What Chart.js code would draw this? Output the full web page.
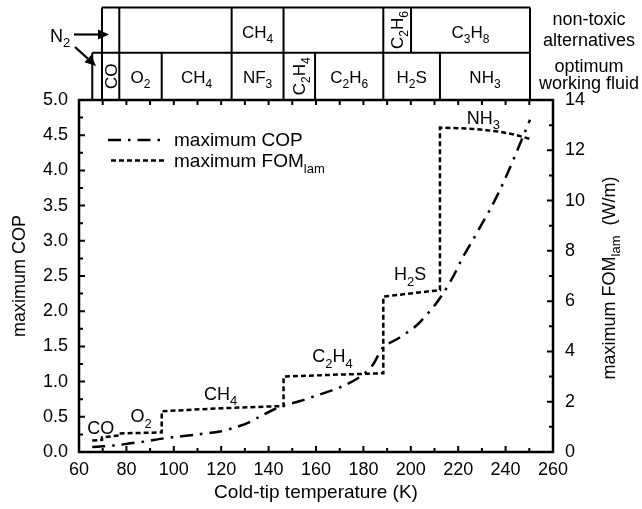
<!DOCTYPE html>
<html><head><meta charset="utf-8">
<script src="https://cdn.jsdelivr.net/npm/chart.js@4"></script>
<style>html,body{margin:0;padding:0;background:#fff}</style>
</head><body>
<canvas id="c" width="642" height="509" style="width:642px;height:509px;display:block"></canvas>
<script>
// ---------------- data ----------------
const copTemps  = [65.6, 70, 77, 81, 88, 94.9, 100, 110, 119.5, 125, 131, 137.8, 142, 146.3, 153, 160, 167, 173, 180, 184, 188.4, 195, 202.5, 210, 214, 218, 222, 226, 230, 234, 238, 242, 246, 250.3];
const copValues = [0.07, 0.08, 0.10, 0.12, 0.15, 0.19, 0.21, 0.25, 0.29, 0.34, 0.41, 0.53, 0.60, 0.66, 0.72, 0.80, 0.88, 0.96, 1.10, 1.24, 1.49, 1.62, 1.80, 2.08, 2.27, 2.50, 2.77, 3.00, 3.24, 3.48, 3.75, 4.05, 4.37, 4.72];

const fomTemps  = [65.6, 69.7, 69.7, 77, 77, 94.9, 94.9, 120, 146.3, 146.3, 170, 188.4, 188.4, 212.3, 212.3, 220, 226, 232, 238, 244, 250.3];
const fomValues = [0.46, 0.48, 0.58, 0.66, 0.74, 0.78, 1.62, 1.74, 1.83, 3.00, 3.08, 3.13, 6.18, 6.44, 12.90, 12.88, 12.85, 12.80, 12.73, 12.62, 12.45];

const xTicks   = [60, 80, 100, 120, 140, 160, 180, 200, 220, 240, 260];
const copTicks = [0, 0.5, 1, 1.5, 2, 2.5, 3, 3.5, 4, 4.5, 5];
const fomTicks = [0, 2, 4, 6, 8, 10, 12, 14];

// fluid table (cell edges in K)
const topRowEdges  = [69.7, 77, 124.4, 146.3, 188.4, 200.1, 250.3];
const topRowLabels = ['', '', 'CH_4', '', 'C_2H_6', 'C_3H_8'];
const bottomRowEdges  = [65.6, 69.7, 77, 94.9, 124.4, 146.3, 159.6, 188.4, 212.3, 250.3];
const bottomRowLabels = ['', 'CO', 'O_2', 'CH_4', 'NF_3', 'C_2H_4', 'C_2H_6', 'H_2S', 'NH_3'];

// labels on the FOM curve (K, W/m)
const curveLabels   = ['CO', 'O_2', 'CH_4', 'C_2H_4', 'H_2S', 'NH_3'];
const curveLabelT   = [69.2, 86.2, 119.8, 167.0, 199.7, 230.6];
const curveLabelFom = [0.97, 1.43, 2.33, 3.82, 7.08, 13.3];

const seriesNames = ['maximum COP', 'maximum FOM_{lam}'];

// ---------------- helpers ----------------
const FAM = '"Liberation Sans", Arial, Helvetica, sans-serif';
const F = s => s + 'px ' + FAM;
function parseChem(s) {
  const parts = []; let buf = ''; let i = 0;
  while (i < s.length) {
    if (s[i] === '_') {
      if (buf) { parts.push({t: buf, sub: false}); buf = ''; }
      i++;
      if (s[i] === '{') { const j = s.indexOf('}', i); parts.push({t: s.slice(i + 1, j), sub: true}); i = j + 1; }
      else { parts.push({t: s[i], sub: true}); i++; }
    } else { buf += s[i]; i++; }
  }
  if (buf) parts.push({t: buf, sub: false});
  return parts;
}
function drawChem(ctx, s, x, y, size, align, rot, subSize) {
  const parts = parseChem(s);
  subSize = subSize || Math.round(size * 0.72);
  let w = 0;
  for (const p of parts) { ctx.font = F(p.sub ? subSize : size); w += ctx.measureText(p.t).width; }
  ctx.save();
  ctx.translate(x, y);
  if (rot) ctx.rotate(rot);
  let cx = align === 'center' ? -w / 2 : (align === 'right' ? -w : 0);
  ctx.textAlign = 'left'; ctx.textBaseline = 'alphabetic'; ctx.fillStyle = '#000';
  for (const p of parts) {
    ctx.font = F(p.sub ? subSize : size);
    ctx.fillText(p.t, cx, p.sub ? size * 0.3 : 0);
    cx += ctx.measureText(p.t).width;
  }
  ctx.restore();
}
function arrow(ctx, x1, y1, x2, y2) {
  const a = Math.atan2(y2 - y1, x2 - x1), L = 11, W = 5;
  const bx = x2 - L * Math.cos(a), by = y2 - L * Math.sin(a);
  ctx.beginPath(); ctx.moveTo(x1, y1); ctx.lineTo(bx, by); ctx.lineWidth = 2.2; ctx.stroke();
  ctx.beginPath(); ctx.moveTo(x2, y2);
  ctx.lineTo(bx + W * Math.sin(a), by - W * Math.cos(a));
  ctx.lineTo(bx - W * Math.sin(a), by + W * Math.cos(a));
  ctx.closePath(); ctx.fill();
}

const COP_DASH = [13, 7, 2.5, 7];
const FOM_DASH = [5, 3];

const deco = {
  id: 'deco',
  afterDraw(chart) {
    const ctx = chart.ctx, a = chart.chartArea;
    const xs = chart.scales.x, ys = chart.scales.y, y2 = chart.scales.y2;
    ctx.save();
    ctx.strokeStyle = '#000'; ctx.fillStyle = '#000'; ctx.setLineDash([]);
    // frame
    ctx.lineWidth = 2.5;
    ctx.strokeRect(a.left, a.top, a.right - a.left, a.bottom - a.top);
    // inward ticks
    ctx.lineWidth = 2;
    ctx.beginPath();
    for (let t = 60; t <= 260; t += 10) {
      const px = xs.getPixelForValue(t), major = (t % 20 === 0);
      ctx.moveTo(px, a.bottom); ctx.lineTo(px, a.bottom - (major ? 6 : 4));
      ctx.moveTo(px, a.top); ctx.lineTo(px, a.top + 5);
    }
    for (let k = 0; k <= 20; k++) {
      const py = ys.getPixelForValue(k * 0.25), major = (k % 2 === 0);
      ctx.moveTo(a.left, py); ctx.lineTo(a.left + (major ? 6 : 4), py);
    }
    for (let v = 0; v <= 14; v++) {
      const py = y2.getPixelForValue(v), major = (v % 2 === 0);
      ctx.moveTo(a.right, py); ctx.lineTo(a.right - (major ? 6 : 4), py);
    }
    ctx.stroke();

    // fluid table
    const r0 = 7.5, r1 = 52.7, r2 = a.top;
    ctx.lineWidth = 2;
    ctx.beginPath();
    const tl = xs.getPixelForValue(topRowEdges[0]), tr = xs.getPixelForValue(topRowEdges[topRowEdges.length - 1]);
    const bl = xs.getPixelForValue(bottomRowEdges[0]);
    ctx.moveTo(tl, r0); ctx.lineTo(tr, r0);
    ctx.moveTo(bl, r1); ctx.lineTo(tr, r1);
    for (const e of topRowEdges) { const p = xs.getPixelForValue(e); ctx.moveTo(p, r0); ctx.lineTo(p, r1); }
    for (const e of bottomRowEdges) { const p = xs.getPixelForValue(e); ctx.moveTo(p, r1); ctx.lineTo(p, r2); }
    ctx.stroke();
    const cellText = (edges, labels, yTop, yBot, base) => {
      for (let i = 0; i < labels.length; i++) {
        if (!labels[i]) continue;
        const p1 = xs.getPixelForValue(edges[i]), p2 = xs.getPixelForValue(edges[i + 1]);
        const cx = (p1 + p2) / 2, w = p2 - p1;
        if (w < 36) {
          drawChem(ctx, labels[i], cx + 6, (yTop + yBot) / 2, 17, 'center', -Math.PI / 2, 12);
        } else {
          drawChem(ctx, labels[i], cx, base, 17, 'center', 0, 12);
        }
      }
    };
    cellText(topRowEdges, topRowLabels, r0, r1, 38);
    cellText(bottomRowEdges, bottomRowLabels, r1, r2, 83);
    // row captions
    ctx.font = F(18); ctx.textAlign = 'center'; ctx.textBaseline = 'alphabetic';
    ctx.fillText('non-toxic', 589, 25);
    ctx.fillText('alternatives', 589, 46);
    ctx.fillText('optimum', 589, 72);
    ctx.fillText('working fluid', 589, 89);
    // N2 arrows
    drawChem(ctx, 'N_2', 50, 42, 18, 'left', 0, 13);
    arrow(ctx, 74, 34.5, 109, 34.5);
    arrow(ctx, 75, 47, 96, 66);

    // curve labels
    for (let i = 0; i < curveLabels.length; i++) {
      const px = xs.getPixelForValue(curveLabelT[i]), py = y2.getPixelForValue(curveLabelFom[i]);
      drawChem(ctx, curveLabels[i], px, py + 6.4, 18, 'center', 0, 13);
    }

    // legend
    ctx.lineWidth = 2.5;
    ctx.setLineDash(COP_DASH);
    ctx.beginPath(); ctx.moveTo(108, 140); ctx.lineTo(165, 140); ctx.stroke();
    ctx.setLineDash(FOM_DASH);
    ctx.beginPath(); ctx.moveTo(111, 160.5); ctx.lineTo(165, 160.5); ctx.stroke();
    ctx.setLineDash([]);
    drawChem(ctx, seriesNames[0], 174, 146, 19, 'left', 0, 13);
    drawChem(ctx, seriesNames[1], 174, 167, 19, 'left', 0, 13);

    // axis titles
    ctx.font = F(19); ctx.textAlign = 'center'; ctx.textBaseline = 'alphabetic';
    ctx.fillText('Cold-tip temperature (K)', (a.left + a.right) / 2, 498);
    drawChem(ctx, 'maximum COP', 25, (a.top + a.bottom) / 2, 18, 'center', -Math.PI / 2, 13);
    drawChem(ctx, 'maximum FOM_{lam}  (W/m)', 615, (a.top + a.bottom) / 2 + 2, 18, 'center', -Math.PI / 2, 13);
    ctx.restore();
  }
};

Chart.defaults.font.family = FAM;
Chart.defaults.font.size = 18;
Chart.defaults.color = '#000';

new Chart(document.getElementById('c'), {
  type: 'line',
  data: {
    datasets: [
      { label: seriesNames[0], yAxisID: 'y',
        data: copTemps.map((t, i) => ({x: t, y: copValues[i]})),
        borderColor: '#000', borderWidth: 2.5, borderDash: COP_DASH, pointRadius: 0, tension: 0.25, fill: false },
      { label: seriesNames[1], yAxisID: 'y2',
        data: fomTemps.map((t, i) => ({x: t, y: fomValues[i]})),
        borderColor: '#000', borderWidth: 2.5, borderDash: FOM_DASH, pointRadius: 0, tension: 0, fill: false }
    ]
  },
  options: {
    responsive: false, animation: false, devicePixelRatio: 1,
    layout: { padding: { top: 100, left: 0, right: 0, bottom: 0 } },
    plugins: { legend: { display: false }, tooltip: { enabled: false } },
    scales: {
      x: { type: 'linear', position: 'bottom', min: 60, max: 260,
        afterBuildTicks: s => { s.ticks = xTicks.map(v => ({value: v})); },
        afterFit: s => { s.height = 57; },
        grid: { display: false, drawTicks: false }, border: { display: false },
        ticks: { padding: 7, autoSkip: false, maxRotation: 0, font: { size: 18 } } },
      y: { type: 'linear', position: 'left', min: 0, max: 5,
        afterBuildTicks: s => { s.ticks = copTicks.map(v => ({value: v})); },
        afterFit: s => { s.width = 79; },
        grid: { display: false, drawTicks: false }, border: { display: false },
        ticks: { padding: 11, autoSkip: false, font: { size: 18 }, callback: v => v.toFixed(1) } },
      y2: { type: 'linear', position: 'right', min: 0, max: 14,
        afterBuildTicks: s => { s.ticks = fomTicks.map(v => ({value: v})); },
        afterFit: s => { s.width = 89; },
        grid: { display: false, drawTicks: false }, border: { display: false },
        ticks: { padding: 12, autoSkip: false, font: { size: 18 } } }
    }
  },
  plugins: [deco]
});
</script>
</body></html>
